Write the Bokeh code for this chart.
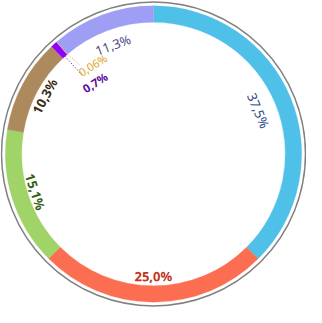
import numpy as np
from bokeh.plotting import figure
from bokeh.core.properties import value
from bokeh.embed import file_html
from bokeh.resources import INLINE

# ---- data ----
values = [37.5, 25.0, 15.1, 10.3, 0.7, 0.06, 11.3]
labels = ["37,5%", "25,0%", "15,1%", "10,3%", "0,7%", "0,06%", "11,3%"]

# ---- styles ----
slice_colors = ["#4FC1E9", "#FC6E51", "#A0D468", "#AC8A5E", "#9000FF", "#F6BB42", "#9E9EF5"]
label_colors = ["#284A8C", "#C03420", "#32600E", "#3A2A16", "#5C0A9E", "#D9A326", "#4B4B82"]
label_weight = ["normal", "bold", "bold", "bold", "bold", "normal", "normal"]
label_size = ["13px", "13px", "13px", "13px", "11.5px", "11px", "13px"]
label_radius = [118, 127, 129, 128, 96, 112, 121]          # reference px from centre
label_angle_shift = [0, 0, 0, 0, 2.9, 6.5, 0]              # degrees, clockwise
label_rot_override = [None, None, None, None, -32, -32, None]  # screen degrees clockwise
leader = {4: (137, 111, 0.0), 5: (137, 121, 1.2)}           # r_from, r_to, angle shift

W, H = 306, 307
S = 0.962
R_OUT, R_IN, R_FRAME = 154 * S, 137 * S, 158 * S

p = figure(width=W, height=H, x_range=(-W / 2, W / 2), y_range=(-H / 2, H / 2),
           output_backend="svg", toolbar_location=None, min_border=0)
p.axis.visible = False
p.grid.visible = False
p.outline_line_color = None
p.background_fill_color = "white"
p.border_fill_color = "white"

total = sum(values)
fr = np.array(values) / total
ends = np.cumsum(fr) * 360.0
starts = ends - fr * 360.0
mids = (starts + ends) / 2

# outer frame circle
p.circle(x=0, y=0, radius=R_FRAME, fill_color=None, line_color="#808080", line_width=1.5)

# ring slices
for i in range(len(values)):
    p.annular_wedge(x=0, y=0, inner_radius=R_IN, outer_radius=R_OUT,
                    start_angle=np.radians(90 - ends[i]), end_angle=np.radians(90 - starts[i]),
                    fill_color=slice_colors[i], line_color=slice_colors[i], line_width=0.3)

# leader lines
for i, (r0, r1, sh) in leader.items():
    a0 = np.radians(mids[i])
    a1 = np.radians(mids[i] + sh)
    p.line(x=[r0 * S * np.sin(a0), r1 * S * np.sin(a1)],
           y=[r0 * S * np.cos(a0), r1 * S * np.cos(a1)],
           line_color=label_colors[i], line_width=1, line_dash="1 2")

# labels
for i in range(len(values)):
    phi = mids[i] + label_angle_shift[i]
    r = label_radius[i] * S
    x = r * np.sin(np.radians(phi))
    y = r * np.cos(np.radians(phi))
    if label_rot_override[i] is not None:
        theta = label_rot_override[i]
    else:
        cphi = np.cos(np.radians(phi))
        theta = phi if cphi >= 0 else phi - 180
    p.text(x=[x], y=[y], text=[labels[i]], angle=np.radians(-theta),
           text_align="center", text_baseline="middle",
           text_font=value("Noto Sans"), text_font_size=label_size[i],
           text_font_style=label_weight[i], text_color=label_colors[i])

open("out.html", "w").write(file_html(p, INLINE))
